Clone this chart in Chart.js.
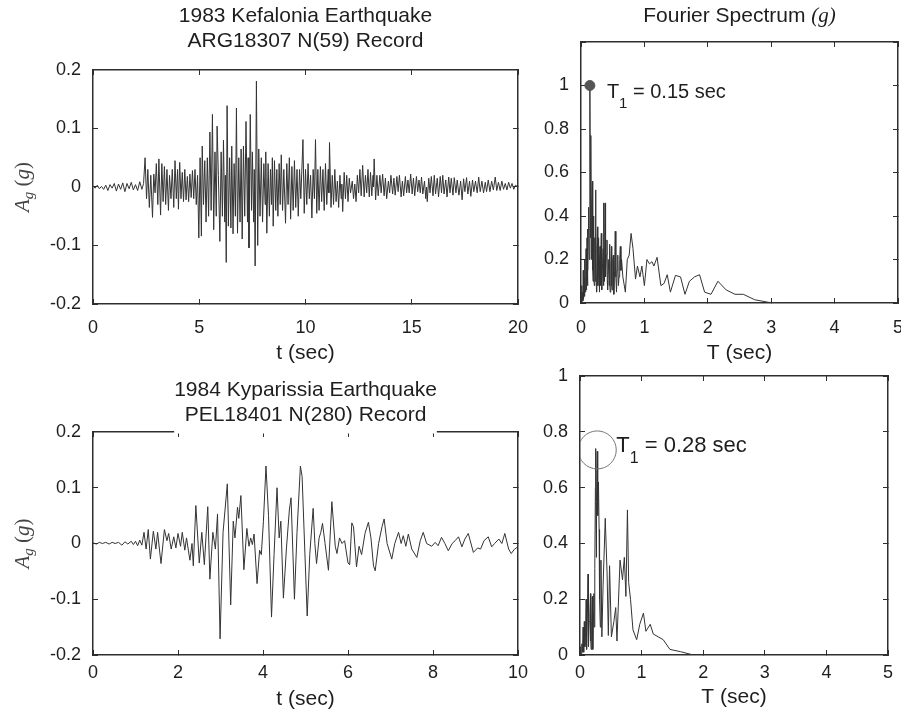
<!DOCTYPE html>
<html>
<head>
<meta charset="utf-8">
<title>Kefalonia / Kyparissia records</title>
<script src="https://cdn.jsdelivr.net/npm/chart.js@4.4.1/dist/chart.umd.min.js"></script>
<style>
    html, body { margin: 0; padding: 0; background: #fff; overflow: hidden; }
    #page { position: relative; width: 901px; height: 712px; overflow: hidden; }
    #page canvas { position: absolute; }
</style>
</head>
<body>
<div id="page">
    <canvas id="kefAccChart" width="548" height="366" style="left:0;top:0"></canvas>
    <canvas id="kefSpecChart" width="394" height="366" style="left:530px;top:0"></canvas>
    <canvas id="kypAccChart" width="542" height="346" style="left:0;top:366px"></canvas>
    <canvas id="kypSpecChart" width="380" height="364" style="left:530px;top:348px"></canvas>
</div>
<script>
// 1983 Kefalonia, ARG18307 N(59): turning points of the acceleration trace (sec, g)
const kefTime = [
    0, 0.1, 0.2, 0.3, 0.4, 0.5, 0.6, 0.7, 0.8, 0.9, 1.0, 1.1, 1.2, 1.3, 1.4, 1.5, 1.6, 1.7, 1.8, 1.9,
    2.0, 2.1, 2.2, 2.3, 2.38, 2.45, 2.52, 2.58, 2.65, 2.72, 2.8, 2.86, 2.92, 2.98, 3.05, 3.1, 3.18, 3.24, 3.3, 3.36,
    3.42, 3.48, 3.55, 3.6, 3.67, 3.73, 3.8, 3.86, 3.92, 3.98, 4.02, 4.08, 4.14, 4.2, 4.26, 4.32, 4.38, 4.44, 4.5, 4.56,
    4.62, 4.68, 4.74, 4.8, 4.86, 4.92, 4.98, 5.04, 5.1, 5.14, 5.2, 5.26, 5.32, 5.38, 5.44, 5.5, 5.56, 5.62, 5.68, 5.74,
    5.8, 5.84, 5.9, 5.97, 6.03, 6.09, 6.14, 6.2, 6.23, 6.27, 6.31, 6.37, 6.43, 6.49, 6.53, 6.59, 6.64, 6.7, 6.75, 6.8,
    6.86, 6.92, 6.97, 7.02, 7.08, 7.14, 7.2, 7.27, 7.3, 7.34, 7.4, 7.46, 7.5, 7.56, 7.59, 7.63, 7.69, 7.75, 7.8, 7.86,
    7.92, 7.98, 8.04, 8.1, 8.13, 8.18, 8.24, 8.3, 8.35, 8.4, 8.44, 8.48, 8.54, 8.6, 8.65, 8.7, 8.76, 8.81, 8.86, 8.92,
    8.98, 9.06, 9.12, 9.18, 9.24, 9.3, 9.36, 9.42, 9.48, 9.54, 9.6, 9.66, 9.72, 9.78, 9.88, 9.94, 10.0, 10.06, 10.12, 10.18,
    10.24, 10.3, 10.36, 10.42, 10.47, 10.53, 10.58, 10.64, 10.7, 10.76, 10.82, 10.88, 10.94, 11.0, 11.07, 11.1, 11.13, 11.2, 11.26, 11.32,
    11.38, 11.44, 11.5, 11.56, 11.62, 11.68, 11.71, 11.75, 11.82, 11.88, 11.94, 12.0, 12.06, 12.12, 12.2, 12.26, 12.32, 12.38, 12.44, 12.5,
    12.56, 12.62, 12.69, 12.76, 12.82, 12.88, 12.94, 13.0, 13.06, 13.12, 13.18, 13.2, 13.23, 13.3, 13.36, 13.42, 13.5, 13.56, 13.63, 13.7,
    13.76, 13.82, 13.9, 13.96, 14.02, 14.1, 14.16, 14.22, 14.3, 14.36, 14.42, 14.5, 14.56, 14.62, 14.7, 14.76, 14.82, 14.88, 14.95, 15.02,
    15.08, 15.14, 15.22, 15.28, 15.34, 15.4, 15.46, 15.52, 15.6, 15.66, 15.7, 15.73, 15.8, 15.86, 15.92, 16.0, 16.06, 16.12, 16.2, 16.26,
    16.34, 16.4, 16.46, 16.52, 16.6, 16.66, 16.74, 16.8, 16.86, 16.94, 17.0, 17.08, 17.14, 17.22, 17.3, 17.37, 17.44, 17.5, 17.58, 17.64,
    17.72, 17.78, 17.86, 17.92, 18.0, 18.08, 18.15, 18.22, 18.3, 18.38, 18.46, 18.52, 18.6, 18.68, 18.76, 18.84, 18.93, 19.0, 19.08, 19.16,
    19.24, 19.32, 19.4, 19.48, 19.56, 19.64, 19.72, 19.8, 19.88, 20.0
];
const kefAcc = [
    0.002, -0.002, 0.003, -0.003, 0.001, -0.004, 0.003, -0.006, 0.004, -0.002, 0.006, -0.007, 0.005, -0.004, 0.007, -0.008, 0.006, -0.003, 0.008, -0.005,
    0.004, -0.006, 0.009, -0.004, 0.006, 0.05, -0.02, 0.03, -0.035, 0.02, -0.052, 0.022, -0.01, 0.04, -0.03, 0.048, -0.048, 0.04, -0.025, 0.035,
    -0.03, 0.03, -0.04, 0.02, -0.02, 0.03, -0.035, 0.045, -0.02, 0.03, -0.038, 0.042, -0.02, 0.025, -0.025, 0.03, -0.022, 0.018, -0.025, 0.022,
    -0.018, 0.028, -0.02, 0.03, -0.03, 0.02, -0.087, 0.05, -0.084, 0.07, -0.03, 0.045, -0.06, 0.05, -0.05, 0.094, -0.04, 0.124, -0.073, 0.06,
    -0.05, 0.104, 0.02, -0.093, 0.06, -0.05, 0.08, -0.06, 0.02, -0.129, 0.139, -0.067, 0.05, -0.07, 0.07, -0.08, 0.04, -0.05, 0.135, -0.079,
    0.05, -0.06, 0.065, -0.089, 0.07, -0.05, 0.112, -0.06, 0.05, -0.104, 0.124, -0.04, 0.06, -0.06, 0.03, -0.135, 0.181, -0.1, 0.065, -0.05,
    0.05, -0.06, 0.04, -0.03, 0.06, -0.079, 0.04, -0.05, 0.03, -0.03, 0.05, -0.067, 0.045, -0.04, 0.03, -0.05, 0.04, -0.03, 0.055, -0.04,
    0.03, -0.062, 0.04, -0.03, 0.05, -0.055, 0.035, -0.04, 0.045, -0.035, 0.03, -0.05, 0.03, -0.02, 0.081, -0.045, 0.03, -0.03, 0.04, -0.02,
    0.02, -0.053, 0.03, -0.02, 0.081, -0.045, 0.03, -0.04, 0.035, -0.025, 0.03, -0.04, 0.04, -0.03, 0.03, -0.01, 0.076, -0.035, 0.02, -0.03,
    0.03, -0.025, 0.01, -0.035, 0.02, -0.02, 0.005, -0.042, 0.025, -0.02, 0.02, -0.025, 0.015, -0.01, 0.01, -0.02, 0.005, -0.025, 0.02, -0.01,
    0.03, -0.015, 0.037, -0.017, 0.02, -0.01, 0.03, -0.017, 0.025, -0.015, 0.02, 0.0, 0.048, -0.022, 0.02, -0.015, 0.02, -0.01, 0.022, -0.015,
    0.015, -0.02, 0.01, -0.01, 0.02, -0.012, 0.015, -0.014, 0.018, -0.008, 0.02, -0.017, 0.01, -0.015, 0.018, -0.01, 0.012, -0.01, 0.022, -0.012,
    0.015, -0.015, 0.018, -0.008, 0.012, -0.01, 0.017, -0.012, 0.01, -0.02, 0.0, -0.025, 0.015, -0.01, 0.018, -0.015, 0.02, -0.012, 0.015, -0.017,
    0.018, -0.01, 0.02, -0.012, 0.012, -0.017, 0.017, -0.01, 0.015, -0.014, 0.016, -0.01, 0.012, -0.014, 0.01, -0.022, 0.014, -0.008, 0.016, -0.012,
    0.01, -0.016, 0.012, -0.008, 0.01, -0.01, 0.017, -0.008, 0.01, -0.01, 0.008, -0.008, 0.012, -0.008, 0.01, -0.005, 0.017, -0.006, 0.008, -0.006,
    0.01, -0.004, 0.006, -0.005, 0.008, -0.002, 0.006, -0.004, 0.003, 0.0
];

// 1984 Kyparissia, PEL18401 N(280): turning points of the acceleration trace (sec, g)
const kypTime = [
    0, 0.08, 0.15, 0.22, 0.3, 0.38, 0.45, 0.52, 0.6, 0.68, 0.75, 0.82, 0.9, 0.95, 1.0, 1.05, 1.1, 1.15, 1.2, 1.25,
    1.3, 1.35, 1.42, 1.48, 1.52, 1.6, 1.68, 1.74, 1.78, 1.84, 1.9, 1.95, 2.0, 2.06, 2.1, 2.16, 2.2, 2.28, 2.33, 2.36,
    2.42, 2.5, 2.56, 2.62, 2.7, 2.75, 2.82, 2.88, 2.93, 2.99, 3.06, 3.16, 3.24, 3.3, 3.34, 3.4, 3.43, 3.48, 3.55, 3.62,
    3.67, 3.71, 3.75, 3.79, 3.86, 3.92, 3.96, 4.01, 4.07, 4.13, 4.2, 4.26, 4.33, 4.38, 4.42, 4.48, 4.55, 4.62, 4.66, 4.74,
    4.8, 4.88, 4.92, 5.04, 5.1, 5.18, 5.22, 5.26, 5.32, 5.36, 5.4, 5.46, 5.54, 5.62, 5.7, 5.74, 5.8, 5.86, 5.92, 6.0,
    6.04, 6.09, 6.13, 6.2, 6.26, 6.32, 6.4, 6.48, 6.54, 6.6, 6.64, 6.72, 6.8, 6.85, 6.92, 7.03, 7.1, 7.19, 7.25, 7.3,
    7.36, 7.42, 7.5, 7.62, 7.7, 7.77, 7.85, 7.97, 8.05, 8.12, 8.2, 8.28, 8.36, 8.45, 8.52, 8.6, 8.68, 8.75, 8.83, 8.95,
    9.05, 9.12, 9.2, 9.3, 9.38, 9.45, 9.55, 9.62, 9.69, 9.78, 9.84, 9.92, 10.0
];
const kypAcc = [
    0.001, -0.001, 0.002, 0.0, 0.002, -0.001, 0.002, 0.0, 0.002, -0.003, 0.003, -0.001, 0.004, -0.002, 0.004, -0.004, 0.006, -0.003, 0.02, -0.01,
    0.025, -0.028, 0.022, -0.01, 0.02, -0.036, 0.025, 0.005, 0.018, -0.01, 0.012, -0.008, 0.018, -0.005, 0.02, -0.012, 0.01, -0.03, 0.0, -0.04,
    0.068, -0.035, 0.02, -0.038, 0.066, -0.064, 0.02, -0.01, 0.053, -0.171, 0.02, 0.107, -0.11, 0.04, 0.01, 0.065, 0.045, 0.086, -0.047, 0.027,
    -0.005, 0.01, -0.002, 0.017, -0.072, -0.012, -0.02, 0.04, 0.139, 0.05, -0.132, -0.02, 0.1, 0.01, 0.04, -0.098, -0.01, 0.06, 0.082, -0.1,
    0.02, 0.139, 0.12, -0.13, -0.02, 0.063, 0.0, -0.036, 0.01, 0.02, 0.036, 0.0, -0.048, 0.075, -0.005, -0.018, 0.01, 0.0, 0.005, -0.035,
    -0.038, 0.037, 0.03, -0.042, -0.005, -0.02, 0.018, 0.038, 0.01, -0.04, -0.049, 0.0, 0.03, 0.044, 0.0, -0.028, 0.0, 0.02, 0.0, 0.014,
    -0.005, 0.017, -0.01, -0.025, 0.005, 0.02, 0.0, -0.005, 0.002, -0.004, 0.011, 0.0, -0.013, 0.0, 0.005, 0.012, -0.006, 0.008, 0.018, -0.016,
    -0.008, -0.01, 0.005, 0.012, -0.006, 0.0, 0.008, 0.0, 0.018, -0.01, -0.018, -0.01, -0.006
];

// Fourier spectra (period in sec, amplitude in g)
const kefPeriod = [
    0, 0.01, 0.015, 0.02, 0.03, 0.035, 0.04, 0.05, 0.055, 0.06, 0.07, 0.075, 0.08, 0.085, 0.09, 0.095, 0.1, 0.105, 0.11, 0.115,
    0.12, 0.13, 0.14, 0.15, 0.155, 0.165, 0.17, 0.18, 0.185, 0.19, 0.195, 0.2, 0.205, 0.21, 0.215, 0.22, 0.225, 0.23, 0.235, 0.245,
    0.25, 0.26, 0.265, 0.27, 0.275, 0.28, 0.285, 0.29, 0.295, 0.3, 0.305, 0.31, 0.32, 0.325, 0.33, 0.34, 0.35, 0.355, 0.36, 0.365,
    0.37, 0.38, 0.385, 0.39, 0.4, 0.41, 0.415, 0.42, 0.43, 0.44, 0.445, 0.45, 0.455, 0.46, 0.47, 0.48, 0.485, 0.49, 0.5, 0.51,
    0.515, 0.52, 0.53, 0.54, 0.55, 0.56, 0.57, 0.58, 0.59, 0.6, 0.61, 0.62, 0.63, 0.64, 0.66, 0.7, 0.73, 0.76, 0.79, 0.82,
    0.86, 0.89, 0.93, 0.96, 1.0, 1.04, 1.08, 1.12, 1.15, 1.2, 1.26, 1.31, 1.36, 1.41, 1.49, 1.57, 1.64, 1.71, 1.79, 1.87,
    1.95, 2.05, 2.16, 2.29, 2.43, 2.56, 2.74, 2.96, 3.2, 5.0
];
const kefAmp = [
    0, 0.08, 0.0, 0.05, 0.01, 0.15, 0.02, 0.12, 0.03, 0.2, 0.05, 0.18, 0.25, 0.06, 0.1, 0.3, 0.34, 0.08, 0.15, 0.33,
    0.44, 0.2, 1.0, 0.3, 0.77, 0.2, 0.45, 0.56, 0.15, 0.1, 0.35, 0.4, 0.12, 0.08, 0.28, 0.3, 0.1, 0.52, 0.2, 0.05,
    0.25, 0.35, 0.08, 0.12, 0.28, 0.3, 0.1, 0.05, 0.2, 0.26, 0.08, 0.15, 0.32, 0.1, 0.06, 0.18, 0.25, 0.08, 0.46, 0.2,
    0.1, 0.46, 0.15, 0.12, 0.22, 0.29, 0.1, 0.06, 0.2, 0.2, 0.08, 0.27, 0.1, 0.05, 0.18, 0.26, 0.08, 0.06, 0.2, 0.22,
    0.07, 0.04, 0.15, 0.33, 0.12, 0.05, 0.15, 0.22, 0.08, 0.12, 0.2, 0.26, 0.15, 0.2, 0.12, 0.05, 0.2, 0.22, 0.32, 0.25,
    0.11, 0.17, 0.12, 0.17, 0.08, 0.2, 0.18, 0.19, 0.17, 0.21, 0.08, 0.09, 0.13, 0.05, 0.127, 0.12, 0.04, 0.1, 0.12, 0.13,
    0.05, 0.04, 0.1, 0.06, 0.04, 0.04, 0.015, 0.003, 0, 0
];
const kypPeriod = [
    0, 0.01, 0.02, 0.03, 0.04, 0.05, 0.06, 0.07, 0.08, 0.09, 0.1, 0.105, 0.11, 0.12, 0.13, 0.135, 0.14, 0.15, 0.16, 0.17,
    0.175, 0.18, 0.19, 0.2, 0.205, 0.21, 0.22, 0.225, 0.23, 0.24, 0.25, 0.255, 0.26, 0.265, 0.27, 0.28, 0.285, 0.29, 0.3, 0.31,
    0.315, 0.32, 0.33, 0.34, 0.355, 0.375, 0.41, 0.44, 0.46, 0.48, 0.51, 0.55, 0.58, 0.6, 0.65, 0.69, 0.72, 0.745, 0.77, 0.79,
    0.82, 0.86, 0.92, 0.97, 1.03, 1.07, 1.14, 1.19, 1.35, 1.46, 1.63, 1.84, 5.0
];
const kypAmp = [
    0, 0.03, 0.005, 0.04, 0.01, 0.1, 0.01, 0.12, 0.03, 0.08, 0.2, 0.05, 0.02, 0.15, 0.29, 0.1, 0.03, 0.12, 0.15, 0.22,
    0.05, 0.02, 0.12, 0.21, 0.08, 0.02, 0.15, 0.22, 0.1, 0.31, 0.6, 0.74, 0.5, 0.35, 0.55, 0.73, 0.6, 0.5, 0.62, 0.45,
    0.35, 0.2, 0.1, 0.34, 0.065, 0.25, 0.49, 0.29, 0.07, 0.32, 0.065, 0.12, 0.17, 0.05, 0.34, 0.27, 0.35, 0.21, 0.52, 0.26,
    0.2, 0.09, 0.055, 0.11, 0.15, 0.085, 0.11, 0.075, 0.055, 0.02, 0.012, 0, 0
];

// dominant period markers
const peakPeriod = [0.14, 0.28];
const peakAmp = [1.0, 0.735];
const peakLabel = ['0.15 sec', '0.28 sec'];

const accTitles = [
    ['1983 Kefalonia Earthquake', 'ARG18307 N(59) Record'],
    ['1984 Kyparissia Earthquake', 'PEL18401 N(280) Record']
];

const SANS = '"Liberation Sans", Arial, sans-serif';
const SERIF = '"Liberation Serif", "Times New Roman", serif';
const INK = '#1e1e1e';
const FRAME = '#2e2e2e';
const TRACE = '#333333';

function toPoints(xs, ys) {
    return xs.map((x, i) => ({x: x, y: ys[i]}));
}

function fmt(v) {
    return String(Math.round(v * 10) / 10);
}

// text made of runs in different fonts (subscripts, italic math)
function runsWidth(ctx, runs) {
    let w = 0;
    runs.forEach(r => {
        ctx.font = r.font;
        w += ctx.measureText(r.text).width;
    });
    return w;
}

function richTextPlugin(items) {
    return {
        id: 'richText',
        afterDraw(chart) {
            const ctx = chart.ctx;
            items.forEach(item => {
                const p = item.at(chart);
                ctx.save();
                ctx.translate(p.x, p.y);
                if (item.rotate) ctx.rotate(item.rotate);
                ctx.fillStyle = item.color || INK;
                ctx.textBaseline = 'alphabetic';
                ctx.textAlign = 'left';
                let x = item.align === 'center' ? -runsWidth(ctx, item.runs) / 2 : 0;
                item.runs.forEach(r => {
                    ctx.font = r.font;
                    ctx.fillText(r.text, x, r.dy || 0);
                    x += ctx.measureText(r.text).width;
                });
                ctx.restore();
            });
        }
    };
}

// white box behind the title where it sits on the frame
const titleGapPlugin = {
    id: 'titleGap',
    afterDraw(chart) {
        const ca = chart.chartArea;
        const ctx = chart.ctx;
        ctx.save();
        ctx.font = '21px ' + SANS;
        const lines = chart.options.plugins.title.text;
        const w = Math.max(...lines.map(t => ctx.measureText(t).width));
        const cx = (ca.left + ca.right) / 2;
        ctx.fillStyle = '#fff';
        ctx.fillRect(cx - w / 2, ca.top - 2, w, 3.5);
        ctx.restore();
    }
};

const yLabelItem = {
    at: c => ({x: c.chartArea.left - 64, y: (c.chartArea.top + c.chartArea.bottom) / 2}),
    rotate: -Math.PI / 2,
    align: 'center',
    color: '#444',
    runs: [
        {text: 'A', font: 'italic 21px ' + SERIF},
        {text: 'g', font: 'italic 15px ' + SERIF, dy: 4},
        {text: ' (', font: '21px ' + SERIF},
        {text: 'g', font: 'italic 21px ' + SERIF},
        {text: ')', font: '21px ' + SERIF}
    ]
};

function peakLabelItem(i, dx, dy, size, subSize, subDy) {
    return {
        at: c => ({
            x: c.scales.x.getPixelForValue(peakPeriod[i]) + dx,
            y: c.scales.y.getPixelForValue(peakAmp[i]) + dy
        }),
        runs: [
            {text: 'T', font: size + 'px ' + SANS},
            {text: '1', font: subSize + 'px ' + SANS, dy: subDy},
            {text: ' = ' + peakLabel[i], font: size + 'px ' + SANS}
        ]
    };
}

function buildScales(p) {
    const grid = {drawOnChartArea: false, drawTicks: true, tickLength: -5, color: FRAME, lineWidth: 1};
    const border = {display: true, color: FRAME, width: 1.5};
    const tickFont = {family: SANS, size: 18};
    return {
        x: {
            type: 'linear', position: 'bottom', min: p.xMin, max: p.xMax,
            ticks: {stepSize: p.xStep, font: tickFont, color: INK, padding: p.tickPad, maxRotation: 0, autoSkip: false, callback: fmt},
            grid: grid, border: border,
            title: {display: true, text: p.xTitle, color: INK, font: {family: SANS, size: 21, lineHeight: 1.2},
                padding: {top: 0, bottom: p.xTitlePad}},
            afterFit: s => { s.height = p.bottomH; }
        },
        xTop: {
            type: 'linear', position: 'top', min: p.xMin, max: p.xMax,
            ticks: {stepSize: p.xStep, display: false},
            grid: grid, border: border,
            afterFit: s => { s.height = 0; }
        },
        y: {
            type: 'linear', position: 'left', min: p.yMin, max: p.yMax,
            ticks: {stepSize: p.yStep, font: tickFont, color: INK, padding: 17, autoSkip: false,
                callback: v => (v > p.yLabelMax + 1e-6 ? '' : fmt(v))},
            grid: grid, border: border,
            afterFit: s => { s.width = p.leftW; }
        },
        yRight: {
            type: 'linear', position: 'right', min: p.yMin, max: p.yMax,
            ticks: {stepSize: p.yStep, display: false},
            grid: grid, border: border,
            afterFit: s => { s.width = 0; }
        }
    };
}

function makeChart(canvasId, p) {
    const title = p.title
        ? {display: true, text: p.title, fullSize: false, color: INK,
           font: {family: SANS, size: 21, weight: 'normal', lineHeight: 1.19}, padding: p.titlePad}
        : {display: false};
    return new Chart(document.getElementById(canvasId), {
        type: 'line',
        data: {datasets: p.datasets},
        options: {
            responsive: false,
            animation: false,
            events: [],
            layout: {padding: p.padding},
            elements: {point: {radius: 0}, line: {tension: 0}},
            plugins: {legend: {display: false}, tooltip: {enabled: false}, title: title},
            scales: buildScales(p)
        },
        plugins: p.plugins
    });
}

function traceSet(xs, ys) {
    return {data: toPoints(xs, ys), borderColor: TRACE, borderWidth: 1, pointRadius: 0, fill: false, order: 2};
}

makeChart('kefAccChart', {
    datasets: [traceSet(kefTime, kefAcc)],
    xMin: 0, xMax: 20, xStep: 5, yMin: -0.2, yMax: 0.2, yStep: 0.1, yLabelMax: 0.2,
    xTitle: 't (sec)', xTitlePad: 0.4, tickPad: 18,
    leftW: 93, bottomH: 62,
    padding: {left: 0, top: 0, right: 30, bottom: 0},
    title: accTitles[0], titlePad: {top: 4, bottom: 16},
    plugins: [richTextPlugin([yLabelItem])]
});

makeChart('kefSpecChart', {
    datasets: [
        {data: [{x: peakPeriod[0], y: peakAmp[0]}], showLine: false, pointRadius: 5,
         pointBackgroundColor: '#555', pointBorderColor: '#555', order: 0},
        traceSet(kefPeriod, kefAmp)
    ],
    xMin: 0, xMax: 5, xStep: 1, yMin: 0, yMax: 1.2, yStep: 0.2, yLabelMax: 1,
    xTitle: 'T (sec)', xTitlePad: 0.4, tickPad: 19,
    leftW: 51, bottomH: 63,
    padding: {left: 0, top: 42, right: 26, bottom: 0},
    plugins: [richTextPlugin([
        {
            at: c => ({x: (c.chartArea.left + c.chartArea.right) / 2, y: c.chartArea.top - 20}),
            align: 'center',
            runs: [
                {text: 'Fourier Spectrum ', font: '21px ' + SANS},
                {text: '(g)', font: 'italic 21px ' + SERIF}
            ]
        },
        peakLabelItem(0, 17, 12, 20, 15, 10)
    ])]
});

makeChart('kypAccChart', {
    datasets: [traceSet(kypTime, kypAcc)],
    xMin: 0, xMax: 10, xStep: 2, yMin: -0.2, yMax: 0.2, yStep: 0.1, yLabelMax: 0.2,
    xTitle: 't (sec)', xTitlePad: 0.4, tickPad: 12,
    leftW: 93, bottomH: 57,
    padding: {left: 0, top: 0, right: 24, bottom: 0},
    title: accTitles[1], titlePad: {top: 11.5, bottom: 4.5},
    plugins: [titleGapPlugin, richTextPlugin([yLabelItem])]
});

makeChart('kypSpecChart', {
    datasets: [
        {data: [{x: peakPeriod[1], y: peakAmp[1]}], showLine: false, pointRadius: 19,
         pointBackgroundColor: 'rgba(0,0,0,0)', pointBorderColor: '#777', pointBorderWidth: 1, order: 0},
        traceSet(kypPeriod, kypAmp)
    ],
    xMin: 0, xMax: 5, xStep: 1, yMin: 0, yMax: 1, yStep: 0.2, yLabelMax: 1,
    xTitle: 'T (sec)', xTitlePad: 2.4, tickPad: 12,
    leftW: 50, bottomH: 57,
    padding: {left: 0, top: 28, right: 22, bottom: 0},
    plugins: [richTextPlugin([peakLabelItem(1, 19, 2, 22, 16, 11)])]
});
</script>
</body>
</html>
